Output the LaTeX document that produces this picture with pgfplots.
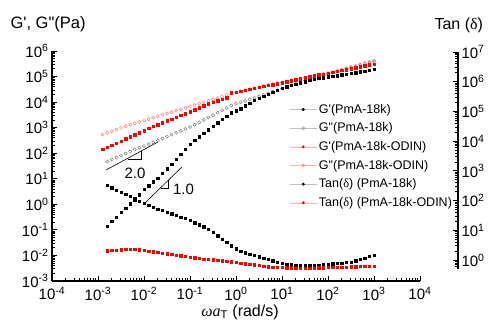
\documentclass[border=0pt]{standalone}
\usepackage{fontspec}
\setmainfont{Liberation Sans}[Ligatures=TeXOff]
\newfontfamily\serif{Liberation Serif}[Ligatures=TeXOff]
\usepackage{pgfplots}
\pgfplotsset{compat=1.18}
\usepackage{pgfplotstable}
\definecolor{gcirc}{RGB}{125,125,125}
\definecolor{pinkc}{RGB}{255,125,125}
\definecolor{redc}{RGB}{255,0,0}
\newcommand{\lgf}{\fontsize{12.5}{15}\selectfont}

\pgfplotstableread{
x gp1 gpp1 gp2 gpp2 tan1 tan2
0.001259 nan nan 147 536 nan nan
0.001585 0.142 47.4 175 624 5.56 0.0155
0.001995 0.213 56.9 210 728 4.52 0.0159
0.002512 0.320 68.1 251 847 3.67 0.0164
0.003162 0.480 81.5 301 989 3.07 0.0168
0.003981 0.719 97.5 364 1132 2.54 0.0173
0.005012 1.06 117 440 1294 2.10 0.0177
0.00631 1.49 139 531 1469 1.73 0.0173
0.007943 2.34 163 641 1683 1.36 0.0167
0.01 3.85 192 767 1910 1.10 0.0158
0.01259 5.42 225 929 2183 0.927 0.0150
0.01585 7.55 265 1112 2477 0.780 0.0140
0.01995 10.8 315 1318 2812 0.664 0.0133
0.02512 16.4 377 1563 3192 0.574 0.0125
0.03162 24.8 452 1858 3614 0.498 0.0118
0.03981 37.6 536 2183 4102 0.431 0.0111
0.05012 56.9 635 2570 4656 0.373 0.0104
0.0631 89.9 755 3048 5236 0.323 0.00980
0.07943 144 895 3581 5929 0.279 0.00920
0.1 230 1062 4217 6730 0.233 0.00863
0.1259 318 1306 5047 7638 0.193 0.00811
0.1585 440 1607 6039 8670 0.161 0.00767
0.1995 603 2014 7244 9750 0.134 0.00735
0.2512 834 2500 8511 11140 0.107 0.00701
0.3162 1132 3105 9840 12760 0.0792 0.00678
0.3981 1538 3855 11350 14620 0.0589 0.00647
0.5012 2089 4786 13120 16710 0.0434 0.00618
0.631 2838 5929 15140 19140 0.0321 0.00597
0.7943 3819 7362 23120 21930 0.0241 0.00570
1 4571 8511 24660 23990 0.0186 0.00541
1.259 5572 9750 26240 26490 0.0147 0.00507
1.585 7112 11140 28710 28970 0.0129 0.00481
1.995 9141 12760 31410 31990 0.0115 0.00455
2.512 11670 14620 34360 34990 0.0102 0.00432
3.162 14090 16710 37670 38280 0.00895 0.00408
3.981 16870 19140 40830 42270 0.00789 0.00384
5.012 20230 22130 44670 46670 0.00695 0.00364
6.31 24210 25530 48870 50700 0.00624 0.00357
7.943 28970 29510 53460 54950 0.00556 0.00351
10 34670 34120 58480 59570 0.00498 0.00341
12.59 40460 39360 63390 65160 0.00455 0.00335
15.85 45080 45500 69500 70630 0.00436 0.00330
19.95 50700 52480 76030 76740 0.00412 0.00324
25.12 56490 60670 83180 83180 0.00394 0.00318
31.62 62950 68870 90990 90990 0.00394 0.00318
39.81 70150 77980 98620 98620 0.00406 0.00321
50.12 77980 88510 106900 106900 0.00416 0.00327
63.1 86100 99540 116100 116100 0.00424 0.00330
79.43 91830 113000 125900 125900 0.00444 0.00335
100 97720 128200 136500 136500 0.00459 0.00338
125.9 103300 145200 147900 147900 0.00476 0.00341
158.5 109900 163300 160300 163300 0.00494 0.00348
199.5 116900 183700 174200 182000 0.00512 0.00351
251.2 124700 206500 188800 200900 0.00531 0.00357
316.2 132700 232300 206500 223900 0.00551 0.00361
398.1 142900 261200 223900 249500 0.00618 0.00367
501.2 153500 293800 242700 278000 0.00708 0.00370
631 164800 329600 263600 309700 0.00804 0.00377
794.3 178600 370700 285800 342000 0.00920 0.00384
1000 192300 416900 309700 381100 0.0104 0.00387
}\data

\begin{document}
\begin{tikzpicture}
\useasboundingbox (0,0) rectangle (488pt,324pt);
\clip (0,0) rectangle (488pt,324pt);
\begin{axis}[
  at={(52pt,43pt)}, anchor=south west,
  width=368pt, height=230pt, scale only axis,
  xmode=log, ymode=log,
  xmin=1e-4, xmax=1e4, ymin=1e-3, ymax=1e6,
  axis lines*=left,
  axis line style={line width=1.1pt},
  tick align=inside,
  major tick length=5pt, minor tick length=3pt,
  every tick/.style={black, line width=0.8pt},
  xtick={1e-4,1e-3,1e-2,1e-1,1,10,100,1000,10000},
  xticklabels={10\textsuperscript{-4},10\textsuperscript{-3},10\textsuperscript{-2},10\textsuperscript{-1},10\textsuperscript{0},10\textsuperscript{1},10\textsuperscript{2},10\textsuperscript{3},10\textsuperscript{4}},
  minor xtick={2e-4,3e-4,4e-4,5e-4,6e-4,7e-4,8e-4,9e-4,
    2e-3,3e-3,4e-3,5e-3,6e-3,7e-3,8e-3,9e-3,
    2e-2,3e-2,4e-2,5e-2,6e-2,7e-2,8e-2,9e-2,
    0.2,0.3,0.4,0.5,0.6,0.7,0.8,0.9,
    2,3,4,5,6,7,8,9,
    20,30,40,50,60,70,80,90,
    200,300,400,500,600,700,800,900,
    2000,3000,4000,5000,6000,7000,8000,9000},
  ytick={1e-3,1e-2,1e-1,1,10,100,1000,1e4,1e5,1e6},
  yticklabels={10\textsuperscript{-3},10\textsuperscript{-2},10\textsuperscript{-1},10\textsuperscript{0},10\textsuperscript{1},10\textsuperscript{2},10\textsuperscript{3},10\textsuperscript{4},10\textsuperscript{5},10\textsuperscript{6}},
  minor ytick={2e-3,3e-3,4e-3,5e-3,6e-3,7e-3,8e-3,9e-3,
    2e-2,3e-2,4e-2,5e-2,6e-2,7e-2,8e-2,9e-2,
    0.2,0.3,0.4,0.5,0.6,0.7,0.8,0.9,
    2,3,4,5,6,7,8,9,
    20,30,40,50,60,70,80,90,
    200,300,400,500,600,700,800,900,
    2000,3000,4000,5000,6000,7000,8000,9000,
    2e4,3e4,4e4,5e4,6e4,7e4,8e4,9e4,
    2e5,3e5,4e5,5e5,6e5,7e5,8e5,9e5},
  tick label style={font=\fontsize{15}{18}\selectfont},
  xticklabel style={yshift=-3pt},
  legend style={draw=none, fill=none, at={(0.645,0.778)}, anchor=north west,
    font=\lgf, row sep=4.1pt, inner sep=0pt},
  legend cell align=left,
  legend image code/.code={
    \draw[#1, mark=none] (0pt,0pt) -- (27pt,0pt);
    \draw[#1] plot coordinates {(13.5pt,0pt)};
  },
]
\addplot[forget plot, only marks, mark=o, mark size=1.6pt, gcirc, line width=0.5pt] table[x=x,y=gpp1]{\data};
\addplot[forget plot, only marks, mark=o, mark size=1.6pt, pinkc, line width=0.5pt] table[x=x,y=gpp2]{\data};
\addplot[forget plot, only marks, mark=square*, mark size=1.2pt, black] table[x=x,y=gp1]{\data};
\addplot[forget plot, only marks, mark=square*, mark size=1.2pt, redc] table[x=x,y=gp2]{\data};
\addplot[forget plot, only marks, mark=square*, mark size=1.15pt, black] table[x=x,y=tan1]{\data};
\addplot[forget plot, only marks, mark=square*, mark size=1.15pt, redc] table[x=x,y=tan2]{\data};
% slope guides
\addplot[forget plot, black, line width=0.6pt] coordinates {(0.00149,22) (0.0201,275)};
\addplot[forget plot, black, line width=0.6pt] coordinates {(0.00449,58) (0.0086,58) (0.0086,117)};
\addplot[forget plot, black, line width=0.6pt] coordinates {(0.0105,1.13) (0.067,29)};
\addplot[forget plot, black, line width=0.6pt] coordinates {(0.0229,4.37) (0.0341,4.37) (0.0341,8.8)};
\node[font=\fontsize{15}{18}\selectfont] at (axis cs:0.0064,16.9) {2.0};
\node[font=\fontsize{15}{18}\selectfont, anchor=west] at (axis cs:0.036,4.0) {1.0};
% legend
\addlegendimage{draw=black!25, mark=*, mark size=1.3pt, mark options={draw=black, fill=black}}
\addlegendentry{\lgf G'(PmA-18k)}
\addlegendimage{draw=black!25, mark=o, mark size=1.5pt, mark options={draw=gcirc, fill=white}}
\addlegendentry{\lgf G"(PmA-18k)}
\addlegendimage{draw=redc!30, mark=*, mark size=1.3pt, mark options={draw=redc, fill=redc}}
\addlegendentry{\lgf G'(PmA-18k-ODIN)}
\addlegendimage{draw=redc!30, mark=o, mark size=1.5pt, mark options={draw=pinkc, fill=white}}
\addlegendentry{\lgf G"(PmA-18k-ODIN)}
\addlegendimage{draw=black!25, mark=*, mark size=1.3pt, mark options={draw=black, fill=black}}
\addlegendentry{\lgf Tan({\serif δ}) (PmA-18k)}
\addlegendimage{draw=redc!30, mark=*, mark size=1.3pt, mark options={draw=redc, fill=redc}}
\addlegendentry{\lgf Tan({\serif δ}) (PmA-18k-ODIN)}
\end{axis}
\begin{axis}[
  at={(458pt,55pt)}, anchor=south east,
  width=20pt, height=217pt, scale only axis,
  xmin=0, xmax=1, ymode=log, ymin=0.5, ymax=1e7,
  axis x line=none, axis y line*=right,
  axis line style={line width=1.1pt},
  tick align=inside,
  major tick length=5pt, minor tick length=3pt,
  every tick/.style={black, line width=0.8pt},
  ytick={1,10,100,1000,1e4,1e5,1e6,1e7},
  yticklabels={10\textsuperscript{0},10\textsuperscript{1},10\textsuperscript{2},10\textsuperscript{3},10\textsuperscript{4},10\textsuperscript{5},10\textsuperscript{6},10\textsuperscript{7}},
  minor ytick={0.6,0.7,0.8,0.9,
    2,3,4,5,6,7,8,9,
    20,30,40,50,60,70,80,90,
    200,300,400,500,600,700,800,900,
    2000,3000,4000,5000,6000,7000,8000,9000,
    2e4,3e4,4e4,5e4,6e4,7e4,8e4,9e4,
    2e5,3e5,4e5,5e5,6e5,7e5,8e5,9e5,
    2e6,3e6,4e6,5e6,6e6,7e6,8e6,9e6},
  tick label style={font=\fontsize{15}{18}\selectfont},
]
\end{axis}
\node[anchor=west, font=\fontsize{16.5}{20}\selectfont] at (7pt,300pt) {G', G"(Pa)};
\node[anchor=west, font=\fontsize{16}{19}\selectfont] at (431pt,299pt) {Tan ({\serif δ})};
\node[font=\fontsize{16}{19}\selectfont] at (240pt,12pt) {{\serif\itshape ωa}\textsubscript{T} (rad/s)};
\end{tikzpicture}
\end{document}
